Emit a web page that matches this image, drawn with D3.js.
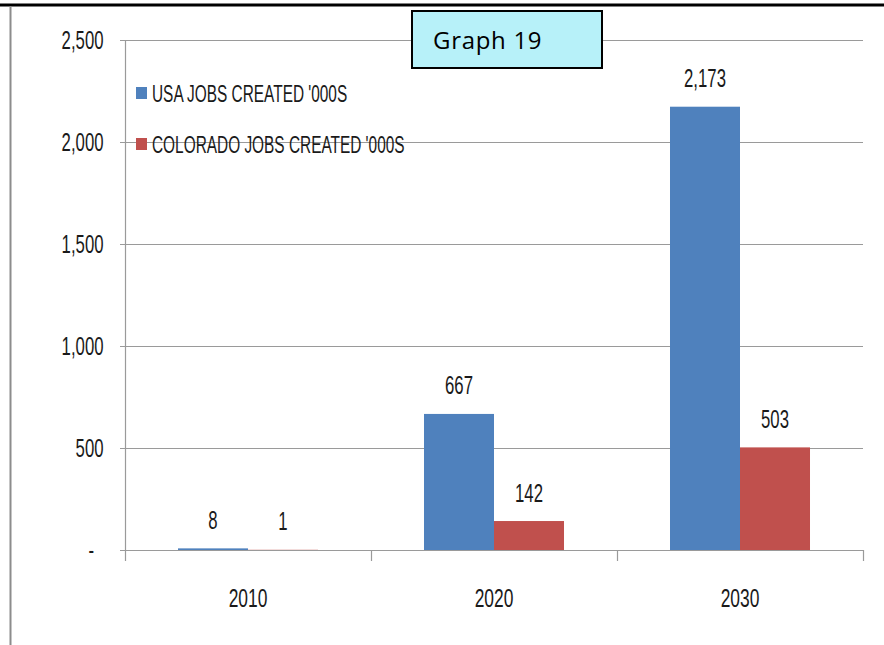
<!DOCTYPE html>
<html>
<head>
<meta charset="utf-8">
<script src="https://cdn.jsdelivr.net/npm/d3@7"></script>
<style>
  html, body { margin: 0; padding: 0; background: #fff; }
  svg { display: block; }
  .lbl { font-family: "Liberation Sans", Arial, sans-serif; fill: #1a1a1a; }
</style>
</head>
<body>
<svg id="chart" width="884" height="645"></svg>
<script>
// Jobs created (thousands) by decade
const categories = ["2010", "2020", "2030"];
const seriesNames = ["USA JOBS CREATED '000S", "COLORADO JOBS CREATED '000S"];
const usaJobs = [8, 667, 2173];
const coloradoJobs = [1, 142, 503];
const yTickValues = [0, 500, 1000, 1500, 2000, 2500];
const yTickLabels = ["-", "500", "1,000", "1,500", "2,000", "2,500"];
const seriesColors = ["#4F81BD", "#C0504D"];

// horizontal squeeze applied to every chart label (narrow lettering)
const SQUEEZE = 0.67;

const svg = d3.select("#chart");

const plot = { left: 125, right: 863, top: 40, bottom: 550 };

const x0 = d3.scaleBand().domain(categories).range([plot.left, plot.right]).padding(0);
const x1 = d3.scaleBand().domain(seriesNames).range([0, x0.bandwidth()])
  .paddingInner(0).paddingOuter(0.757);
const y = d3.scaleLinear().domain([0, 2500]).range([plot.bottom, plot.top]);

function placeLabel(sel, fx, fy) {
  sel.attr("x", 0).attr("y", 0)
    .attr("transform", (d, i) => `translate(${fx(d, i)},${fy(d, i)}) scale(${SQUEEZE},1)`);
}

// Frame lines around the figure
svg.append("line").attr("x1", 0).attr("x2", 884).attr("y1", 5).attr("y2", 5)
  .attr("stroke", "#000").attr("stroke-width", 3);
svg.append("line").attr("x1", 10.5).attr("x2", 10.5).attr("y1", 6).attr("y2", 645)
  .attr("stroke", "#8c8c8c").attr("stroke-width", 2);

// Horizontal gridlines (incl. the baseline)
svg.append("g").selectAll("line").data(yTickValues).join("line")
  .attr("x1", plot.left - 5).attr("x2", plot.right)
  .attr("y1", d => Math.round(y(d)) + 0.5).attr("y2", d => Math.round(y(d)) + 0.5)
  .attr("stroke", "#9a9a9a").attr("stroke-width", 1.2);

// Vertical value axis line
svg.append("line").attr("x1", plot.left + 0.5).attr("x2", plot.left + 0.5)
  .attr("y1", y(2500)).attr("y2", y(0) + 1)
  .attr("stroke", "#9a9a9a").attr("stroke-width", 1.2);

// Category separators below the baseline
const sepX = categories.map(c => x0(c)).concat([plot.right]);
svg.append("g").selectAll("line").data(sepX).join("line")
  .attr("x1", d => Math.round(d) + 0.5).attr("x2", d => Math.round(d) + 0.5)
  .attr("y1", y(0)).attr("y2", y(0) + 11)
  .attr("stroke", "#9a9a9a").attr("stroke-width", 1.2);

// Y tick labels
svg.append("g").selectAll("text").data(yTickValues).join("text")
  .attr("class", "lbl")
  .attr("text-anchor", "end")
  .attr("font-size", 25)
  .call(placeLabel, (d, i) => yTickLabels[i] === "-" ? 94 : 103.5, d => y(d) + 9)
  .text((d, i) => yTickLabels[i]);

// X category labels
svg.append("g").selectAll("text").data(categories).join("text")
  .attr("class", "lbl")
  .attr("text-anchor", "middle")
  .attr("font-size", 26)
  .call(placeLabel, d => x0(d) + x0.bandwidth() / 2, () => 606.5)
  .text(d => d);

// Bars
const rows = categories.map((c, i) => ({ cat: c, values: [usaJobs[i], coloradoJobs[i]] }));
const groups = svg.append("g").selectAll("g").data(rows).join("g")
  .attr("transform", d => `translate(${x0(d.cat)},0)`);

groups.selectAll("rect").data(d => d.values.map((v, k) => ({ v, k }))).join("rect")
  .attr("x", d => x1(seriesNames[d.k]))
  .attr("width", x1.bandwidth())
  .attr("y", d => y(d.v))
  .attr("height", d => y(0) - y(d.v))
  .attr("fill", d => seriesColors[d.k]);

// Value labels above bars
const fmt = d3.format(",");
groups.selectAll("text").data(d => d.values.map((v, k) => ({ v, k }))).join("text")
  .attr("class", "lbl")
  .attr("text-anchor", "middle")
  .attr("font-size", 25)
  .call(placeLabel, d => x1(seriesNames[d.k]) + x1.bandwidth() / 2, d => y(d.v) - 19.5)
  .text(d => fmt(d.v));

// Legend
const legend = svg.append("g").selectAll("g").data(seriesNames).join("g")
  .attr("transform", (d, i) => `translate(136,${87 + i * 51})`);
legend.append("rect").attr("width", 11).attr("height", 12)
  .attr("fill", (d, i) => seriesColors[i]);
legend.append("text").attr("class", "lbl")
  .attr("font-size", 23)
  .call(placeLabel, () => 16, () => 14.5)
  .text(d => d);

// Title box
svg.append("rect").attr("x", 412).attr("y", 11).attr("width", 190).attr("height", 57)
  .attr("fill", "#B7F1F9").attr("stroke", "#000").attr("stroke-width", 2);
svg.append("text").attr("x", 433).attr("y", 48.5)
  .attr("font-family", "'Open Sans', 'Noto Sans', sans-serif")
  .attr("font-size", 24).attr("letter-spacing", 0.7).attr("fill", "#000")
  .text("Graph 19");
</script>
</body>
</html>
